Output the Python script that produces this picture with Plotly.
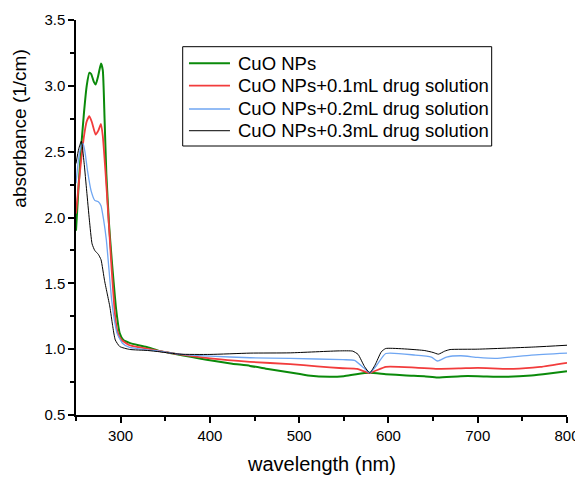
import plotly.graph_objects as go

# ---- data ----
wl_cuo = [250, 253, 256, 259, 262, 265, 267, 270, 272, 275, 278, 280, 282, 284, 287, 290, 292, 295, 299, 303,
          310, 320, 330, 344, 360, 380, 400, 425, 445, 465, 490, 510, 534, 550, 564, 579, 597, 620, 640, 655,
          681, 700, 730, 760, 780, 800]
abs_cuo = [1.90, 2.25, 2.55, 2.80, 3.00, 3.10, 3.09, 3.03, 3.01, 3.08, 3.17, 3.12, 2.75, 2.33, 1.95, 1.68, 1.52, 1.30, 1.12, 1.07,
           1.048, 1.03, 1.015, 0.985, 0.965, 0.94, 0.915, 0.89, 0.873, 0.85, 0.823, 0.80, 0.79, 0.795, 0.81, 0.82, 0.81, 0.80, 0.795, 0.785,
           0.795, 0.795, 0.79, 0.80, 0.815, 0.833]

wl_01 = [250, 253, 256, 259, 262, 265, 268, 272, 275, 278, 280, 283, 287, 290, 294, 297, 301, 310, 320, 344,
         366, 400, 445, 490, 520, 549, 565, 579, 597, 630, 655, 681, 700, 740, 770, 800]
abs_01 = [2.03, 2.25, 2.45, 2.62, 2.73, 2.77, 2.72, 2.63, 2.66, 2.71, 2.62, 2.35, 1.93, 1.60, 1.24, 1.12, 1.07, 1.03, 1.015, 0.985,
          0.96, 0.93, 0.904, 0.886, 0.87, 0.855, 0.85, 0.82, 0.866, 0.86, 0.85, 0.854, 0.858, 0.85, 0.865, 0.896]

wl_02 = [250, 253, 256, 258, 260, 263, 267, 271, 275, 278, 281, 284, 287, 290, 293, 296, 302, 310, 330, 344,
         366, 400, 445, 490, 549, 562, 572, 579, 586, 597, 630, 648, 655, 665, 681, 700, 720, 760, 800]
abs_02 = [2.26, 2.45, 2.55, 2.56, 2.50, 2.35, 2.20, 2.13, 2.12, 2.09, 1.98, 1.83, 1.60, 1.37, 1.22, 1.12, 1.045, 1.013, 0.995, 0.985,
          0.962, 0.947, 0.935, 0.93, 0.92, 0.915, 0.86, 0.82, 0.87, 0.967, 0.955, 0.94, 0.91, 0.94, 0.95, 0.937, 0.93, 0.955, 0.97]

wl_03 = [250, 253, 256, 259, 262, 265, 268, 271, 275, 278, 282, 285, 288, 291, 294, 299, 310, 330, 344, 366,
         400, 445, 490, 545, 560, 566, 573, 579, 585, 592, 597, 640, 650, 656, 663, 669, 700, 765, 800]
abs_03 = [2.41, 2.52, 2.58, 2.42, 2.20, 1.98, 1.80, 1.75, 1.72, 1.68, 1.52, 1.42, 1.32, 1.18, 1.07, 1.02, 0.998, 0.99, 0.98, 0.962,
          0.96, 0.97, 0.972, 0.987, 0.985, 0.96, 0.87, 0.82, 0.88, 0.98, 1.005, 0.99, 0.975, 0.962, 0.985, 0.997, 1.0, 1.017, 1.03]

names = ["CuO NPs", "CuO NPs+0.1mL drug solution", "CuO NPs+0.2mL drug solution", "CuO NPs+0.3mL drug solution"]

x_ticks = [300, 400, 500, 600, 700, 800]
y_ticks = [0.5, 1.0, 1.5, 2.0, 2.5, 3.0, 3.5]
x_title = "wavelength (nm)"
y_title = "absorbance (1/cm)"

colors = ["#0a8a0a", "#f23c3c", "#6fa6f2", "#000000"]
widths = [2, 1.8, 1.3, 1]

fig = go.Figure()
for xs, ys, name, col, w in zip([wl_cuo, wl_01, wl_02, wl_03], [abs_cuo, abs_01, abs_02, abs_03], names, colors, widths):
    fig.add_trace(go.Scatter(x=xs, y=ys, name=name, mode="lines", showlegend=False,
                             line=dict(color=col, width=w, shape="spline", smoothing=0.5)))

font = "Arial, Liberation Sans, sans-serif"

# hand-built legend box (layout-only, paper coordinates)
shapes = [dict(type="rect", xref="paper", yref="paper", x0=0.2173, x1=0.8466, y0=0.681, y1=0.9324,
               line=dict(color="#000", width=1), fillcolor="white", layer="above")]
annotations = []
row_y = [0.8904, 0.8337, 0.7747, 0.7197]
for name, col, w, ry in zip(names, colors, widths, row_y):
    shapes.append(dict(type="line", xref="paper", yref="paper", x0=0.2301, x1=0.3136, y0=ry, y1=ry,
                       line=dict(color=col, width=w), layer="above"))
    annotations.append(dict(text=name, xref="paper", yref="paper", x=0.3259, y=ry, xanchor="left", yanchor="middle",
                            showarrow=False, font=dict(size=18.5, family=font, color="#000")))

annotations += [
    dict(text=x_title, xref="paper", yref="paper", x=0.5, y=-0.124, xanchor="center", yanchor="middle",
         showarrow=False, font=dict(size=20, family=font, color="#000")),
    dict(text=y_title, xref="paper", yref="paper", x=-0.114, y=0.725, xanchor="center", yanchor="middle",
         textangle=-90, showarrow=False, font=dict(size=19, family=font, color="#000")),
]

# page body has an 8px default margin, so the figure is sized to fit the 583x477 window
fig.update_layout(
    width=575, height=469,
    margin=dict(l=68, r=16, t=12, b=62),
    paper_bgcolor="white", plot_bgcolor="white",
    font=dict(family=font, size=15, color="#000"),
    showlegend=False,
    shapes=shapes,
    annotations=annotations,
    xaxis=dict(range=[250, 800], tickvals=x_ticks, ticktext=[str(v) for v in x_ticks],
               showgrid=False, zeroline=False, showline=True, linecolor="#000", linewidth=1.5,
               ticks="outside", ticklen=6, tickwidth=1.5, tickcolor="#000", automargin=False,
               minor=dict(tickvals=[250, 350, 450, 550, 650, 750], ticks="outside", ticklen=4, tickcolor="#000", tickwidth=1.5),
               tickfont=dict(size=15)),
    yaxis=dict(range=[0.5, 3.5], tickvals=y_ticks, ticktext=["%.1f" % v for v in y_ticks],
               showgrid=False, zeroline=False, showline=True, linecolor="#000", linewidth=1.5,
               ticks="outside", ticklen=6, tickwidth=1.5, tickcolor="#000", automargin=False,
               minor=dict(tickvals=[0.75, 1.25, 1.75, 2.25, 2.75, 3.25], ticks="outside", ticklen=4, tickcolor="#000", tickwidth=1.5),
               tickfont=dict(size=15)),
)

fig.write_html("out.html")
